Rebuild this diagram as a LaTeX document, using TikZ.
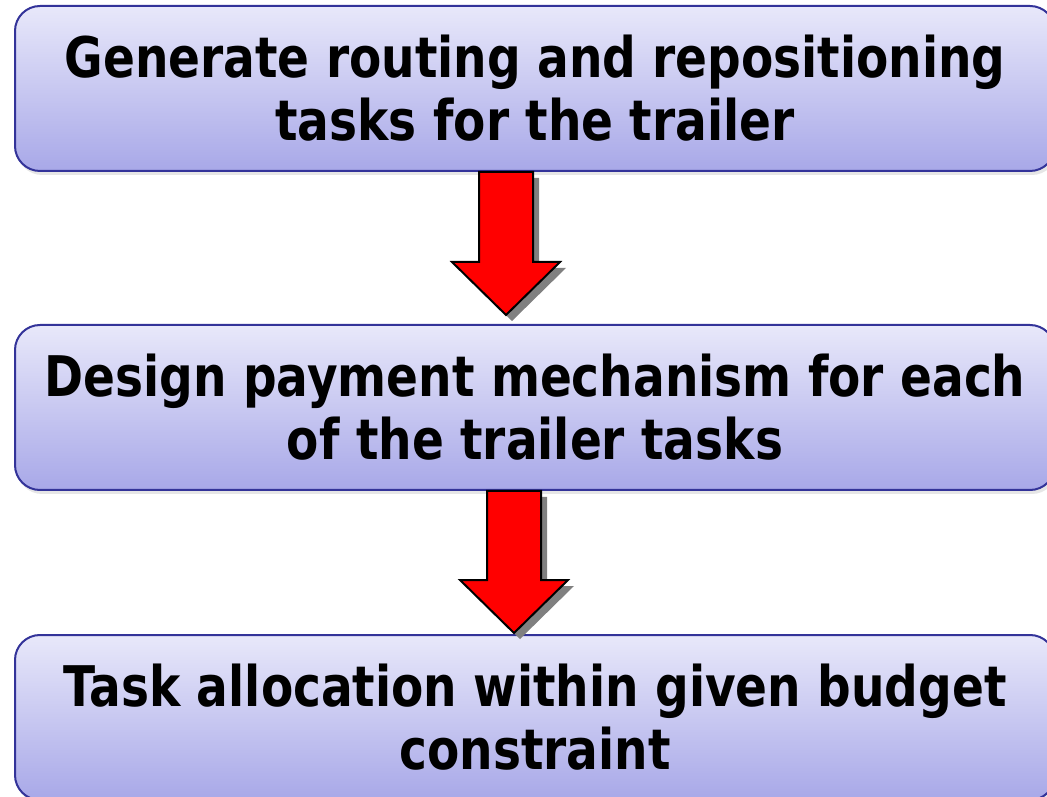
\documentclass[tikz,border=0pt]{standalone}
\usepackage{fontspec}
\setmainfont{DejaVu Sans}[FakeStretch=0.84]
\usetikzlibrary{shadows}
\usetikzlibrary{calc}
\definecolor{boxtop}{RGB}{232,232,250}
\definecolor{boxbottom}{RGB}{168,168,232}
\definecolor{boxline}{RGB}{51,51,153}

\tikzset{
	stepbox/.style={draw=boxline, line width=2pt, rounded corners=25pt,
		top color=boxtop, bottom color=boxbottom,
		minimum width=1040pt, minimum height=165pt, align=center,
		font=\fontsize{56}{63}\selectfont\bfseries,
		drop shadow={shadow xshift=2pt, shadow yshift=-4pt, opacity=0.2}},
	blockarrow/.style={draw=black, line width=2pt, fill=red, line join=miter,
		drop shadow={shadow xshift=6pt, shadow yshift=-6pt, opacity=1, fill=black!50}}
}

\begin{document}
\begin{tikzpicture}
		\useasboundingbox (0pt,0pt) rectangle (1047pt,796pt);
		
		% Las tres etapas
		\node[stepbox] (gen) at (535pt,707.5pt) {Generate routing and repositioning\\tasks for the trailer};
		\node[stepbox] (pay) at (535pt,388.5pt) {Design payment mechanism for each\\of the trailer tasks};
		\node[stepbox] (alloc) at (535pt,78.5pt) {Task allocation within given budget\\constraint};
		
		% Flechas de bloque entre etapas
		\foreach \from/\to/\cx/\gap in {gen/pay/506pt/9pt, pay/alloc/514pt/1pt} {
			\draw[blockarrow] let \p1=(\from.south), \p2=(\to.north) in
				(\cx-27pt,\y1) -- (\cx+27pt,\y1) -- (\cx+27pt,\y2+\gap+53pt) -- (\cx+54pt,\y2+\gap+53pt)
				-- (\cx,\y2+\gap) -- (\cx-54pt,\y2+\gap+53pt) -- (\cx-27pt,\y2+\gap+53pt) -- cycle;
		}
	\end{tikzpicture}
\end{document}
